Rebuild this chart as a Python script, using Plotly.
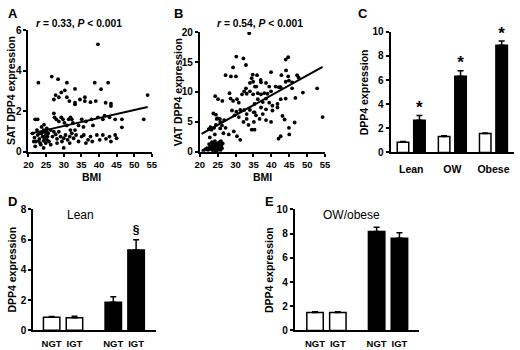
import plotly.graph_objects as go
import numpy as np

# ---------------- data ----------------
# Panel A: SAT DPP4 expression vs BMI
sat_bmi = [22.8, 26.6, 28.4, 30.9, 38.8, 42.6, 40.6, 39.7, 53.8, 27.7, 29.3, 30.3, 27.2, 28.6, 30.9, 31.6, 33.2, 33.2,
           34.6, 36.0, 36.0, 37.6, 39.1, 41.9, 43.4, 43.4, 33.2,
           21.9, 22.6, 27.2, 27.4, 27.9, 28.6, 29.3, 29.8, 30.2, 31.4, 31.9, 32.3, 32.6, 35.1, 36.3, 37.9, 39.7, 41.1,
           41.6, 43.0, 44.6, 46.5, 52.7, 46.5, 38.3, 35.6, 34.2, 30.9, 24.4, 23.7, 25.2, 26.3,
           21.2, 21.7, 22.1, 21.9, 22.6, 23.1, 23.3, 23.7, 24.0, 24.3, 24.4, 24.6, 24.9, 24.9, 25.2, 25.4, 25.6, 25.8,
           23.5, 24.3, 22.9, 26.8, 27.7, 28.1, 29.1, 29.5, 30.0, 30.0, 30.5, 31.1, 31.7, 32.3, 32.8, 33.5, 34.2, 35.1,
           35.7, 36.9, 37.6, 38.1, 40.2, 41.1, 42.0, 43.0, 43.4, 44.6, 45.0, 27.2, 28.6, 31.9, 33.2, 21.5, 26.3, 24.3,
           25.2, 23.3, 22.4, 28.1, 31.7, 39.4, 36.3]
sat_val = [3.41, 3.71, 3.58, 3.41, 3.41, 3.41, 3.09, 5.3, 2.8, 2.8, 2.93, 3.03, 2.58, 2.69, 2.69, 2.5, 3.1, 2.42,
           2.58, 2.69, 2.5, 2.45, 2.5, 2.42, 2.37, 2.26, 2.34,
           1.6, 1.6, 1.9, 1.7, 1.6, 1.5, 1.7, 1.6, 1.43, 1.6, 1.7, 1.6, 1.43, 1.6, 1.5, 1.6, 1.7, 1.6,
           1.78, 1.7, 1.6, 1.6, 1.6, 1.21, 1.3, 1.23, 1.3, 1.3, 1.34, 1.23, 1.15, 1.07,
           0.91, 0.7, 0.51, 0.27, 0.83, 0.64, 0.43, 0.91, 0.75, 0.54, 0.99, 0.67, 0.83, 0.43, 0.59, 0.75, 0.91, 0.51,
           0.35, 1.07, 0.54, 0.75, 0.86, 0.64, 0.75, 0.51, 0.67, 0.19, 0.83, 0.59, 0.75, 0.91, 0.67, 0.83, 0.51, 0.75,
           0.83, 0.59, 0.75, 0.51, 0.59, 0.83, 0.64, 0.75, 0.51, 0.83, 0.67, 0.99, 0.99, 1.07, 1.07, 0.51, 0.35, 0.19,
           0.99, 0.91, 1.07, 0.43, 0.43, 0.83, 0.43]
sat_fit = (0.0394, 0.09)          # slope, intercept of regression line
sat_stats = "r = 0.33, P < 0.001"

# Panel B: VAT DPP4 expression vs BMI
vat_bmi = [21.0, 21.5, 22.0, 22.3, 22.8, 23.0, 23.2, 23.5, 23.7, 23.9, 24.0, 24.1, 24.3, 24.4, 24.5, 24.6, 24.7, 24.8,
           24.9, 25.0, 25.1, 25.2, 25.3, 25.4, 25.5, 25.6, 25.8, 26.0, 26.2, 26.4, 24.2, 23.4, 22.6, 25.9, 24.6, 23.8,
           33.8, 30.2, 32.2, 29.3, 32.9, 27.2, 28.7, 30.1, 34.8, 24.3, 25.1, 26.3, 28.3, 28.6, 29.3, 30.4, 30.9,
           31.8, 32.4, 32.9, 33.1, 34.0, 34.9, 35.4, 34.0, 34.5, 34.9,
           29.0, 30.2, 31.3, 29.7, 30.9, 32.4, 33.1, 34.0, 35.1, 35.7,
           24.7, 25.7, 26.8, 24.5, 25.7, 27.2, 26.6, 28.1, 29.5, 30.4, 31.3, 23.3, 24.0,
           33.6, 34.5, 35.1, 32.2, 33.1,
           44.0, 44.7, 36.0, 37.0, 39.9, 42.8, 44.1, 44.7, 47.2, 47.6,
           37.1, 38.5, 39.4, 41.2, 42.1, 42.6, 35.8, 36.2, 37.1, 38.0, 38.9, 39.9, 44.0, 44.9, 45.8,
           44.0, 45.8, 46.7, 48.8, 52.8,
           35.3, 36.2, 37.6, 38.5, 39.4, 40.3, 41.7, 42.6, 37.1, 38.5, 40.3, 41.7,
           35.3, 36.7, 37.6, 38.5, 39.9, 43.1, 43.7, 44.9, 35.3, 46.5, 54.3, 42.0, 42.6, 45.0,
           22.5, 23.0, 23.8, 24.5, 25.0, 25.6, 26.2, 22.8, 24.2]
vat_val = [0.2, 0.4, 0.6, 0.3, 0.8, 0.5, 1.0, 0.3, 0.7, 1.2, 0.4, 0.9, 1.5, 0.6, 0.2, 1.1, 0.8, 0.4,
           1.4, 0.9, 0.3, 0.6, 1.2, 0.5, 1.6, 0.8, 0.3, 1.0, 0.6, 1.4, 1.8, 1.6, 1.3, 1.8, 0.1, 0.1,
           19.8, 15.9, 15.6, 14.1, 14.5, 12.8, 12.6, 12.6, 12.9, 9.3, 8.8, 8.5, 9.8, 8.9, 8.5, 8.8, 8.2,
           9.6, 10.1, 10.6, 9.7, 10.1, 9.6, 10.9, 11.5, 12.3, 11.7,
           6.9, 6.7, 7.0, 6.1, 5.8, 7.0, 6.3, 7.0, 6.6, 6.1,
           5.5, 5.0, 5.3, 4.5, 3.9, 4.0, 3.1, 2.9, 3.4, 2.6, 2.0, 3.7, 4.0,
           4.5, 3.7, 5.0, 5.0, 5.5,
           15.4, 15.8, 12.8, 12.0, 13.3, 12.8, 13.6, 12.6, 12.8, 12.4,
           11.6, 11.5, 10.9, 10.9, 10.8, 10.8, 10.9, 9.8, 9.6, 9.8, 9.7, 10.1, 11.7, 11.9, 11.6,
           8.9, 10.6, 9.0, 9.9, 10.6,
           8.0, 8.8, 8.3, 8.9, 8.2, 7.7, 8.0, 8.8, 7.4, 7.1, 6.9, 7.4,
           6.6, 5.5, 6.3, 5.3, 5.0, 6.0, 5.4, 4.0, 3.7, 4.9, 5.8, 2.2, 2.6, 2.9,
           3.8, 4.1, 6.4, 6.2, 5.6, 5.5, 4.4, 2.4, 2.9]
vat_fit = (0.331, -3.79)
vat_stats = "r = 0.54, P < 0.001"

# Panel C: SAT (white) vs VAT (black) by BMI group
c_groups = ["Lean", "OW", "Obese"]
c_sat = [0.85, 1.33, 1.57]
c_sat_err = [0.06, 0.05, 0.05]
c_vat = [2.67, 6.32, 8.88]
c_vat_err = [0.4, 0.45, 0.35]
c_mark = ["*", "*", "*"]

# Panels D / E: NGT vs IGT
tol_labels = ["NGT", "IGT"]
d_sat = [0.85, 0.82]
d_sat_err = [0.05, 0.1]
d_vat = [1.85, 5.31]
d_vat_err = [0.37, 0.69]
d_mark = ["", "§"]
e_sat = [1.49, 1.49]
e_sat_err = [0.06, 0.06]
e_vat = [8.19, 7.63]
e_vat_err = [0.35, 0.45]

# ---------------- layout helpers ----------------
W, H = 520, 350
FONT = "Arial, Liberation Sans, sans-serif"
CLEAR = "rgba(0,0,0,0)"


def px(x):
    return x / W


def py(y):
    return 1 - y / H


def axis(dom, rng, **kw):
    d = dict(domain=dom, range=rng, showline=True, linecolor="black", linewidth=2,
             ticks="outside", ticklen=3, tickwidth=1.5, tickcolor="black",
             showgrid=False, zeroline=False, fixedrange=True,
             tickfont=dict(family=FONT, size=10, color="black", weight="bold"))
    d.update(kw)
    return d


fig = go.Figure()

# --- A ---
fig.add_trace(go.Scatter(x=sat_bmi, y=sat_val, mode="markers", marker=dict(size=3.8, color="black"),
                         xaxis="x", yaxis="y", showlegend=False))
lx = np.array([20.5, max(sat_bmi)])
fig.add_trace(go.Scatter(x=lx, y=sat_fit[0] * lx + sat_fit[1], mode="lines",
                         line=dict(color="black", width=2), xaxis="x", yaxis="y", showlegend=False))
# --- B ---
fig.add_trace(go.Scatter(x=vat_bmi, y=vat_val, mode="markers", marker=dict(size=3.8, color="black"),
                         xaxis="x2", yaxis="y2", showlegend=False))
lx2 = np.array([20.5, max(vat_bmi)])
fig.add_trace(go.Scatter(x=lx2, y=vat_fit[0] * lx2 + vat_fit[1], mode="lines",
                         line=dict(color="black", width=2), xaxis="x2", yaxis="y2", showlegend=False))


def err(vals):
    return dict(type="data", array=vals, arrayminus=[0] * len(vals), symmetric=False,
                color="black", thickness=1.5, width=3)


# --- C ---
BW = 0.28
fig.add_trace(go.Bar(x=c_groups, y=c_sat, error_y=err(c_sat_err), width=BW, offset=-0.34,
                     marker=dict(color="white", line=dict(color="black", width=1.5)),
                     xaxis="x3", yaxis="y3", showlegend=False))
fig.add_trace(go.Bar(x=c_groups, y=c_vat, error_y=err(c_vat_err), width=BW, offset=0.06,
                     marker=dict(color="black", line=dict(color="black", width=1.5)),
                     xaxis="x3", yaxis="y3", showlegend=False))
c_pos = np.arange(len(c_groups)) + 0.2
fig.add_trace(go.Scatter(x=c_pos, y=np.array(c_vat) + np.array(c_vat_err) + 0.55, mode="text",
                         text=c_mark, textfont=dict(family=FONT, size=17, color="black", weight="bold"),
                         cliponaxis=False, xaxis="x6", yaxis="y3", showlegend=False))

# --- D / E ---
GAP = 2.7
xw = np.arange(len(tol_labels))
xb = xw + GAP
DW = 0.72
for ax_x, ax_y, s, se, v, ve in [("x4", "y4", d_sat, d_sat_err, d_vat, d_vat_err),
                                 ("x5", "y5", e_sat, e_sat_err, e_vat, e_vat_err)]:
    fig.add_trace(go.Bar(x=xw, y=s, error_y=err(se), width=DW,
                         marker=dict(color="white", line=dict(color="black", width=1.5)),
                         xaxis=ax_x, yaxis=ax_y, showlegend=False))
    fig.add_trace(go.Bar(x=xb, y=v, error_y=err(ve), width=DW,
                         marker=dict(color="black", line=dict(color="black", width=1.5)),
                         xaxis=ax_x, yaxis=ax_y, showlegend=False))
fig.add_trace(go.Scatter(x=xb, y=np.array(d_vat) + np.array(d_vat_err) + 0.55, mode="text",
                         text=d_mark, textfont=dict(family=FONT, size=12, color="black", weight="bold"),
                         cliponaxis=False, xaxis="x4", yaxis="y4", showlegend=False))

tickvals_de = list(xw) + list(xb)
ticktext_de = tol_labels + tol_labels
cat_font = dict(family=FONT, size=10.5, color="black", weight="bold")
de_font = dict(family=FONT, size=9.5, color="black", weight="bold")
bmi_font = dict(family=FONT, size=9.5, color="black", weight="bold")

fig.update_layout(
    width=W, height=H, margin=dict(l=0, r=0, t=0, b=0),
    paper_bgcolor="white", plot_bgcolor="white", barmode="overlay",
    xaxis=axis([px(24), px(150)], [20, 55], tickvals=[20, 25, 30, 35, 40, 45, 50, 55], anchor="y",
               tickfont=bmi_font),
    yaxis=axis([py(151), py(25)], [0, 6], tickvals=[0, 2, 4, 6], anchor="x"),
    xaxis2=axis([px(199), px(327)], [20, 55], tickvals=[20, 25, 30, 35, 40, 45, 50, 55], anchor="y2",
                tickfont=bmi_font),
    yaxis2=axis([py(151), py(27)], [0, 20], tickvals=[0, 5, 10, 15, 20], anchor="x2"),
    xaxis3=axis([px(394), px(520)], [-0.5, 2.5], type="category", ticklen=6, tickcolor=CLEAR, anchor="y3",
                tickfont=cat_font),
    yaxis3=axis([py(151.7), py(26.7)], [0, 10], tickvals=[0, 2, 4, 6, 8, 10], anchor="x3"),
    xaxis6=dict(domain=[px(394), px(520)], range=[-0.5, 2.5], visible=False, anchor="y3", overlaying="x3"),
    xaxis4=axis([px(29), px(154)], [-0.8, 4.56], tickvals=tickvals_de, ticktext=ticktext_de, ticklen=3,
                tickcolor=CLEAR, anchor="y4", tickfont=de_font),
    yaxis4=axis([py(335.7), py(210.7)], [0, 8], tickvals=[0, 2, 4, 6, 8], anchor="x4"),
    xaxis5=axis([px(296), px(423)], [-0.89, 4.56], tickvals=tickvals_de, ticktext=ticktext_de, ticklen=3,
                tickcolor=CLEAR, anchor="y5", tickfont=de_font),
    yaxis5=axis([py(336), py(210.7)], [0, 10], tickvals=[0, 2, 4, 6, 8, 10], anchor="x5"),
)


def ann(x, y, text, size=10, angle=0, bold=True, xanchor="center"):
    fig.add_annotation(x=px(x), y=py(y), xref="paper", yref="paper", text=text, showarrow=False,
                       textangle=angle, xanchor=xanchor, yanchor="middle", borderpad=0, borderwidth=0,
                       font=dict(family=FONT, size=size, color="black", weight="bold" if bold else "normal"))


def stats_html(s):
    r_part, p_part = s.split(", ")
    return "<i>r</i>" + r_part[1:] + ", <i>P</i>" + p_part[1:].replace("<", "&lt;")


# panel letters
ann(8, 8, "A", 13)
ann(177, 8, "B", 13)
ann(366, 8, "C", 13)
ann(8, 202, "D", 13)
ann(270, 202, "E", 13)
# stats titles
ann(76, 18, stats_html(sat_stats), 10.3)
ann(260, 18, stats_html(vat_stats), 10.3)
# axis titles (rotated)
ann(0, 88, "SAT DPP4 expression", 10.5, -90, xanchor="left")
ann(171, 89, "VAT DPP4 expression", 10.5, -90, xanchor="left")
ann(361, 89, "DPP4 expression", 10.5, -90, xanchor="left")
ann(1, 273, "DPP4 expression", 10.5, -90, xanchor="left")
ann(263, 273, "DPP4 expression", 10.5, -90, xanchor="left")
ann(88, 177, "BMI", 10.5)
ann(263, 177, "BMI", 10.5)
# D/E subtitles
ann(77, 216, "Lean", 12, bold=False)
ann(354, 216, "OW/obese", 12, bold=False)

fig.write_html("out.html", config={"displayModeBar": False},
               post_script="document.body.style.margin='0';document.body.style.overflow='hidden';")
